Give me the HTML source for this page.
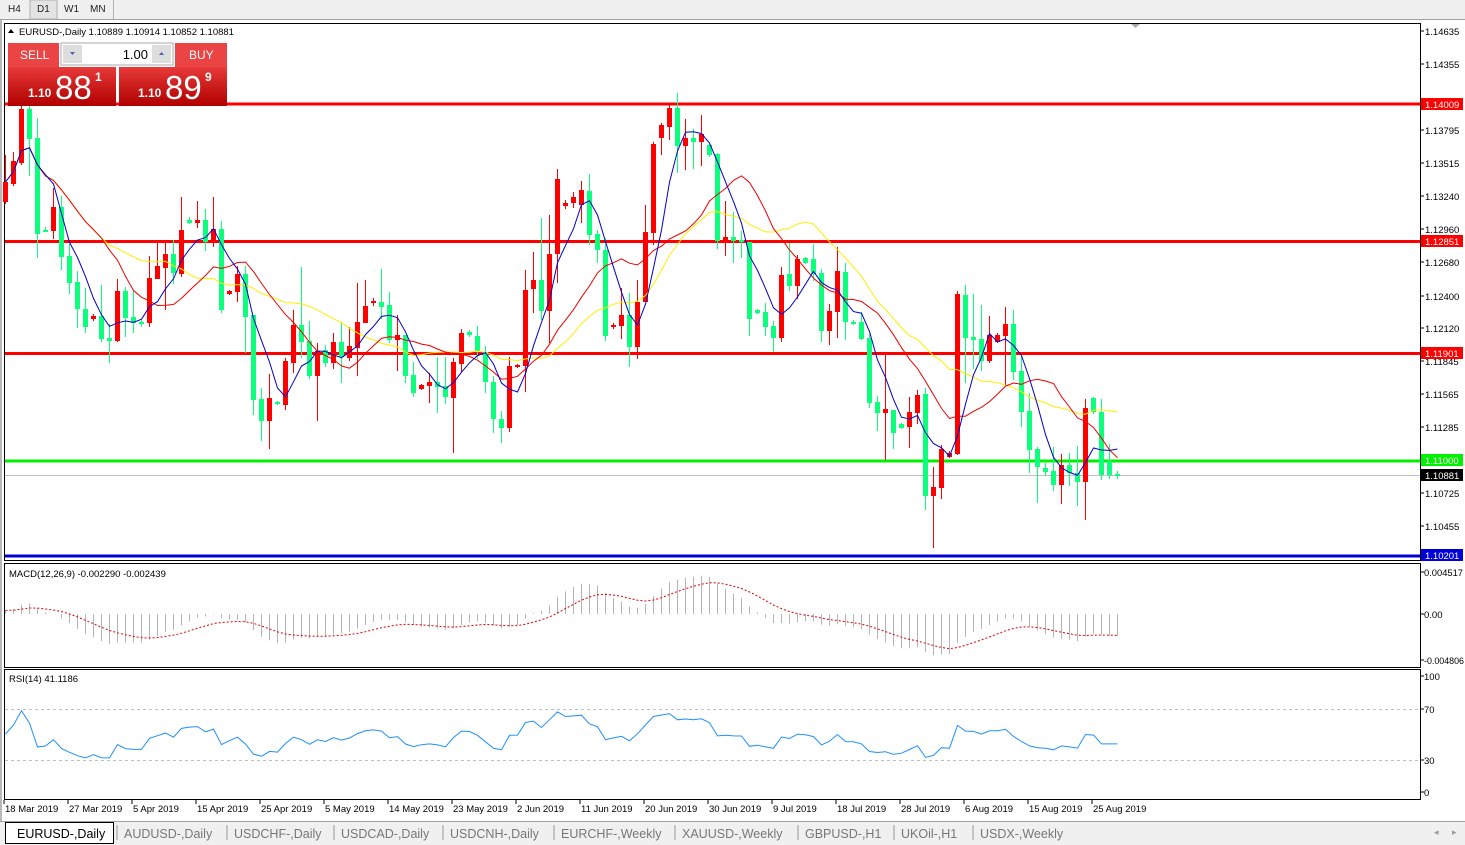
<!DOCTYPE html>
<html><head><meta charset="utf-8"><style>
body{margin:0;width:1465px;height:845px;overflow:hidden;background:#fff;font-family:Tahoma,"Liberation Sans",sans-serif;}
svg{position:absolute;left:0;top:0}
</style></head><body>
<svg id="s" width="1465" height="845" xmlns="http://www.w3.org/2000/svg" font-family="Liberation Sans, sans-serif">
<rect x="0" y="0" width="1465" height="845" fill="#fff"/>
<rect x="0" y="0" width="1465" height="19" fill="#f0f0f0"/>
<line x1="0" y1="19.5" x2="1465" y2="19.5" stroke="#a0a0a0"/>
<rect x="30" y="0" width="27" height="19" fill="#e4e4e4" stroke="#b0b0b0"/>
<line x1="113.5" y1="0" x2="113.5" y2="19" stroke="#b0b0b0"/>
<g font-size="10" fill="#222"><text x="8" y="12">H4</text><text x="37" y="12">D1</text><text x="64" y="12">W1</text><text x="90" y="12">MN</text></g>
<rect x="0" y="20" width="2" height="802" fill="#b8b8b8"/>
<g id="panels"></g>
</svg>
<script>
var out='';
function add(h){out+=h;}
var D=[['r',182,202,155,204],['r',161,184,152,186],['r',109,163,100,165],['g',109,139,100,176],['g',138,234,118,258],['g',230,231,227,232],['r',207,231,188,239],['g',207,257,196,270],['g',256,283,244,294],['g',282,309,271,328],['g',309,327,288,333],['r',316,319,314,321],['g',316,339,285,342],['g',338,341,324,363],['r',291,341,279,342],['g',291,318,287,337],['g',317,323,290,333],['g',322,323,320,327],['r',278,323,256,327],['r',266,279,243,279],['r',254,268,240,310],['g',254,273,240,284],['r',230,274,197,277],['g',220,223,217,224],['r',220,223,201,228],['g',220,242,209,251],['r',229,241,197,247],['g',229,310,221,313],['r',291,294,290,295],['r',274,292,266,302],['g',274,317,266,353],['g',315,400,315,415],['g',399,421,388,441],['r',398,421,374,449],['g',402,404,401,405],['r',361,405,358,410],
['r',325,363,310,373],['g',325,342,267,358],['g',341,376,321,379],['r',351,376,343,421],['g',350,363,345,367],['r',342,363,333,369],['g',342,357,322,383],['r',346,358,327,361],['r',322,348,283,376],['r',306,323,280,323],['r',301,303,298,306],['g',302,307,269,319],['g',305,340,292,343],['r',335,340,315,371],['g',335,376,335,383],['g',375,393,362,397],['r',385,389,384,390],['r',382,386,373,403],['g',382,387,357,413],['g',386,397,357,404],['r',362,398,358,453],['r',333,364,329,372],['g',332,335,330,337],['g',336,351,326,359],['g',352,382,346,393],['g',382,419,376,433],['g',419,428,411,443],['r',366,428,357,432],['r',365,367,364,368],['r',290,366,270,392],['r',280,289,252,313],['g',280,311,218,320],['r',254,311,215,343],['r',179,254,169,283],['r',203,206,200,209],['r',197,203,192,208],
['r',190,205,181,223],['g',191,235,174,245],['g',234,250,230,263],['g',250,336,238,341],['r',325,327,323,329],['r',315,326,288,339],['g',315,347,293,367],['r',302,347,280,359],['r',232,302,205,302],['r',144,233,142,245],['r',125,138,123,155],['r',108,127,103,140],['g',108,146,93,173],['r',138,146,119,170],['g',138,142,129,169],['r',134,142,115,166],['g',145,155,143,157],['g',154,241,153,249],['r',237,241,201,256],['g',237,241,212,263],['g',240,242,231,258],['g',242,319,242,336],['g',310,313,309,314],['g',312,327,303,336],['g',326,338,321,352],['r',275,338,267,342],['g',274,286,243,291],['r',259,286,255,299],['g',258,263,257,264],['g',259,274,244,281],['g',273,331,269,342],['r',311,331,304,345],['r',271,312,247,338],['g',272,322,263,340],
['g',322,323,320,325],['g',322,339,312,340],['g',338,403,334,408],['g',402,413,396,431],['r',409,413,355,460],['g',410,433,410,449],['g',424,428,423,429],['r',412,427,397,448],['r',395,413,390,424],['g',394,496,388,510],['r',487,496,467,548],['r',449,488,445,499],['r',453,457,451,458],['r',294,454,291,455],['g',295,338,285,383],['g',337,340,294,369],['g',339,361,305,371],['r',335,361,316,363],['r',335,342,333,343],['r',324,336,307,385],['g',324,372,310,380],['g',371,412,355,427],['g',411,450,393,473],['g',449,467,447,503],['g',468,472,463,476],['g',471,485,447,491],['r',465,485,454,504],['g',465,473,453,486],['g',473,482,446,506],['r',408,482,399,520],['g',398,412,397,414],['g',412,475,399,480],['g',461,475,444,479],['g',474,475,471,479]];
var N=D.length;function X(i){return 5.5+8*i;}
var GC='#0dff7e',RC='#ff0000';
add('<rect x="4.5" y="23.5" width="1416" height="537" fill="none" stroke="#000"/>');
add('<rect x="4.5" y="563.5" width="1416" height="104" fill="none" stroke="#000"/>');
add('<rect x="4.5" y="669.5" width="1416" height="130" fill="none" stroke="#000"/>');
add('<line x1="5" x2="1420" y1="104" y2="104" stroke="#f00" stroke-width="3"/>');
add('<line x1="5" x2="1420" y1="241.5" y2="241.5" stroke="#f00" stroke-width="3"/>');
add('<line x1="5" x2="1420" y1="353.5" y2="353.5" stroke="#f00" stroke-width="3"/>');
add('<line x1="5" x2="1420" y1="461" y2="461" stroke="#00f000" stroke-width="3"/>');
add('<line x1="5" x2="1420" y1="475.5" y2="475.5" stroke="#c0c0c0" stroke-width="1"/>');
add('<line x1="5" x2="1420" y1="556" y2="556" stroke="#0000d8" stroke-width="3"/>');
var C=[];
for(var i=0;i<N;i++){var d=D[i],x=X(i),col=d[0]=='g'?GC:RC;
 add('<line x1="'+x+'" x2="'+x+'" y1="'+d[3]+'" y2="'+d[4]+'" stroke="'+col+'"/>');
 add('<rect x="'+(x-2.5)+'" y="'+d[1]+'" width="5" height="'+Math.max(2,d[2]-d[1])+'" fill="'+col+'"/>');
 C.push(d[0]=='g'?d[2]:d[1]);}
function P(y){return 1.14635-(y-31)/11842;}
function sma(n){var r=[];for(var i=0;i<N;i++){var s=0,c=0;for(var j=Math.max(0,i-n+1);j<=i;j++){s+=C[j];c++;}r.push(s/c);}return r;}
function line(a,col,st){var s='';for(var i=0;i<a.length;i++)if(a[i]!=null)s+=(s?'L':'M')+X(i).toFixed(1)+' '+a[i].toFixed(1);add('<path d="'+s+'" fill="none" stroke="'+col+'" stroke-width="1"'+(st||'')+'/>');}
line(sma(21),'#ffee00');line(sma(13),'#ee0000');line(sma(5),'#0000cc');
var pr=C.map(P);var pad=[];for(var k=0;k<30;k++)pad.push(pr[0]-0.002+k*0.00007);var all=pad.concat(pr);
function ema(a,n){var k=2/(n+1),r=[a[0]];for(var i=1;i<a.length;i++)r.push(a[i]*k+r[i-1]*(1-k));return r;}
var e12=ema(all,12),e26=ema(all,26),m=e12.map(function(v,i){return v-e26[i];});
var sg=[m[0]];for(var i=1;i<m.length;i++)sg.push(sg[i-1]+(m[i]-sg[i-1])*0.2);
m=m.slice(30);sg=sg.slice(30);
function MY(v){return 614-v*9400;}
for(var i=0;i<N;i++){var y=MY(m[i]);add('<line x1="'+X(i)+'" x2="'+X(i)+'" y1="614" y2="'+Math.max(568,Math.min(664,y)).toFixed(1)+'" stroke="#b4b4b4"/>');}
line(sg.map(MY),'#e00000',' stroke-dasharray="2 2"');
add('<line x1="5" x2="1420" y1="709.5" y2="709.5" stroke="#c0c0c0" stroke-dasharray="3 3"/>');
add('<line x1="5" x2="1420" y1="760.5" y2="760.5" stroke="#c0c0c0" stroke-dasharray="3 3"/>');
var ag=0.0004,al=0.0004,rs=[];for(var i=0;i<N;i++){var ch=i?pr[i]-pr[i-1]:0;ag=(ag*13+Math.max(ch,0))/14;al=(al*13+Math.max(-ch,0))/14;var r=100-100/(1+ag/al);rs.push(792-r*1.16);}
line(rs,'#1e90ff');
add('<g font-size="9.5" fill="#000">');
add('<path d="M8 33 L11 29 L14 33Z" fill="#000"/><text x="19" y="35">EURUSD-,Daily  1.10889 1.10914 1.10852 1.10881</text>');
add('<text x="9" y="577">MACD(12,26,9) -0.002290 -0.002439</text><text x="9" y="682">RSI(14) 41.1186</text>');
var pl=[['1.14635',31],['1.14355',64],['1.13795',130],['1.13515',163],['1.13240',196],['1.12960',229],['1.12680',262],['1.12400',296],['1.12120',328],['1.11845',361],['1.11565',394],['1.11285',427],['1.10725',493],['1.10455',526]];
pl.forEach(function(p){add('<line x1="1420" x2="1424" y1="'+p[1]+'" y2="'+p[1]+'" stroke="#000"/><text x="1425" y="'+(p[1]+4)+'">'+p[0]+'</text>');});
[['0.004517',572],['0.00',614],['-0.004806',660],['100',676],['70',709],['30',760],['0',792]].forEach(function(p){add('<line x1="1420" x2="1424" y1="'+p[1]+'" y2="'+p[1]+'" stroke="#000"/><text x="1424" y="'+(p[1]+4)+'"'+(p[0].length>6?' textLength="'+(p[0].length>8?40:39)+'" lengthAdjust="spacingAndGlyphs"':'')+'>'+p[0]+'</text>');});
[['1.14009',104,'#f00'],['1.12851',241,'#f00'],['1.11901',353,'#f00'],['1.11000',460,'#00f000'],['1.10881',475,'#000'],['1.10201',555,'#0000d8']].forEach(function(p){add('<rect x="1421" y="'+(p[1]-6)+'" width="42" height="12" fill="'+p[2]+'"/><text x="1425" y="'+(p[1]+4)+'" fill="#fff">'+p[0]+'</text>');});
var dl=['18 Mar 2019','27 Mar 2019','5 Apr 2019','15 Apr 2019','25 Apr 2019','5 May 2019','14 May 2019','23 May 2019','2 Jun 2019','11 Jun 2019','20 Jun 2019','30 Jun 2019','9 Jul 2019','18 Jul 2019','28 Jul 2019','6 Aug 2019','15 Aug 2019','25 Aug 2019'];
dl.forEach(function(t,i){var x=4+64*i;add('<line x1="'+x+'" x2="'+x+'" y1="800" y2="804" stroke="#000"/><text x="'+(x+1)+'" y="812">'+t+'</text>');});
add('</g>');
add('<path d="M1131 24 L1140 24 L1135.5 28Z" fill="#aaa"/>');
add('<defs><linearGradient id="rg" x1="0" y1="0" x2="0" y2="1"><stop offset="0" stop-color="#e83a3a"/><stop offset="1" stop-color="#b00000"/></linearGradient></defs>');
add('<rect x="8" y="43" width="51" height="24" fill="#ea4444"/><text x="20" y="59" font-size="12" fill="#fff">SELL</text>');
add('<rect x="175" y="43" width="52" height="24" fill="#ea4444"/><text x="189" y="59" font-size="12" fill="#fff">BUY</text>');
add('<rect x="61" y="43" width="112" height="22" fill="#fff" stroke="#aaa"/><rect x="63" y="45" width="19" height="18" fill="#ddd"/><rect x="152" y="45" width="19" height="18" fill="#ddd"/><path d="M70 52 L75 52 L72.5 55Z" fill="#5060b0"/><path d="M159 55 L164 55 L161.5 52Z" fill="#5060b0"/><text x="148" y="59" font-size="13" text-anchor="end" fill="#000">1.00</text>');
add('<rect x="8" y="67" width="108" height="39" fill="url(#rg)"/><rect x="119" y="67" width="108" height="39" fill="url(#rg)"/>');
add('<text x="28" y="97" font-size="12" font-weight="bold" fill="#fff">1.10</text><text x="55" y="99" font-size="33" fill="#fff">88</text><text x="95" y="81" font-size="12" font-weight="bold" fill="#fff">1</text>');
add('<text x="138" y="97" font-size="12" font-weight="bold" fill="#fff">1.10</text><text x="165" y="99" font-size="33" fill="#fff">89</text><text x="205" y="81" font-size="12" font-weight="bold" fill="#fff">9</text>');
add('<rect x="0" y="821" width="1465" height="24" fill="#f0f0f0"/><line x1="0" x2="1465" y1="821.5" y2="821.5" stroke="#a0a0a0"/>');
add('<rect x="5.5" y="822.5" width="108" height="21" fill="#fff" stroke="#000"/>');
var tb=[['EURUSD-,Daily',17],['AUDUSD-,Daily',124],['USDCHF-,Daily',234],['USDCAD-,Daily',341],['USDCNH-,Daily',450],['EURCHF-,Weekly',561],['XAUUSD-,Weekly',682],['GBPUSD-,H1',805],['UKOil-,H1',901],['USDX-,Weekly',980]];
tb.forEach(function(t,i){add('<text x="'+t[1]+'" y="838" font-size="12.5" fill="'+(i?'#777':'#000')+'">'+t[0]+'</text>');if(i)add('<line x1="'+(t[1]-7)+'" x2="'+(t[1]-7)+'" y1="825" y2="840" stroke="#999"/>');});
add('<text x="1434" y="835" font-size="9" fill="#999">◂</text><text x="1452" y="835" font-size="9" fill="#999">▸</text>');
document.getElementById('panels').innerHTML=out;
</script>
</body></html>
